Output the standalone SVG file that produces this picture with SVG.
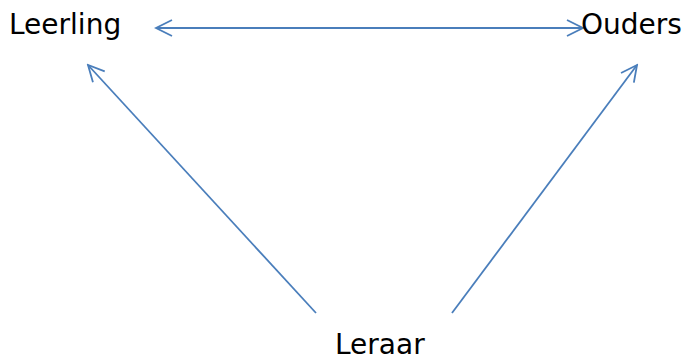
<svg xmlns="http://www.w3.org/2000/svg" width="688" height="361" viewBox="0 0 688 361">
<style>
.lbl{font-family:"DejaVu Sans","Open Sans",sans-serif;font-size:28px;fill:#000}
.c{stroke:#4A7EBB;stroke-width:1.8;fill:none}
</style>
<defs>
<marker id="a" viewBox="0 0 20 20" refX="18" refY="10" markerWidth="20" markerHeight="20" markerUnits="userSpaceOnUse" orient="auto-start-reverse">
<path d="M2,2 L18,10 L2,18" fill="none" stroke="#4A7EBB" stroke-width="1.8"/>
</marker>
</defs>
<rect width="688" height="361" fill="#fff"/>
<g id="connectors">
<line class="c" x1="156" y1="28" x2="583" y2="28" marker-start="url(#a)" marker-end="url(#a)"/>
<line class="c" x1="316" y1="313" x2="88" y2="65" marker-end="url(#a)"/>
<line class="c" x1="452" y1="313" x2="637" y2="65" marker-end="url(#a)"/>
</g>
<g id="leerling"><text class="lbl" x="9" y="34">Leerling</text></g>
<g id="ouders"><text class="lbl" x="581" y="34">Ouders</text></g>
<g id="leraar"><text class="lbl" x="335" y="354">Leraar</text></g>
</svg>
